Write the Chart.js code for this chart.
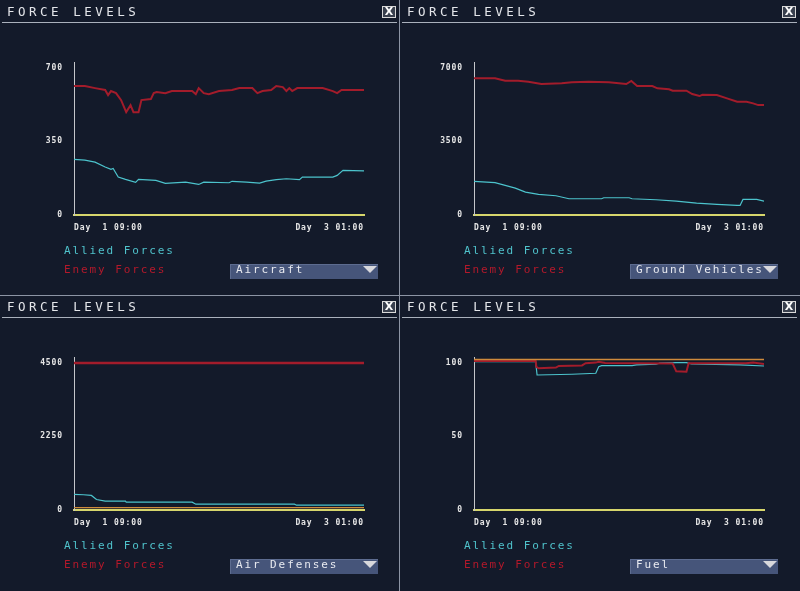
<!DOCTYPE html>
<html>
<head>
<meta charset="utf-8">
<script src="https://cdn.jsdelivr.net/npm/chart.js@4/dist/chart.umd.min.js"></script>
<style>
    body { margin: 0; width: 800px; height: 591px; overflow: hidden; position: relative; background: #131a2a; font-family: 'DejaVu Sans Mono', monospace; }
    .panel { position: absolute; width: 399px; height: 295px; background: #131a2a; }
    .panel canvas { position: absolute; left: 0; top: 0; }
    .titulo { position: absolute; left: 7px; top: 5px; font-size: 12.5px; line-height: 13px; letter-spacing: 3.5px; color: #e4e6ea; }
    .sep { position: absolute; left: 2px; width: 395px; top: 22px; height: 1px; background: #aab1bc; }
    .cerrar { position: absolute; left: 382px; top: 6px; width: 12px; height: 10px; border: 1px solid #d8d8d8; background: #39404e; color: #fff; font: bold 11px/10px 'DejaVu Sans', sans-serif; text-align: center; }
    .leyenda { position: absolute; left: 64px; font-size: 11px; line-height: 11px; letter-spacing: 1.9px; }
    .aliados { top: 245px; color: #4fc2cb; }
    .enemigos { top: 264px; color: #b3192b; }
    .combo { position: absolute; left: 230px; top: 264px; width: 148px; height: 15px; background: #46557a; box-shadow: inset 1px 1px 0 #5d6c90; }
    .combo span { position: absolute; left: 6px; top: 0; font-size: 11px; line-height: 11px; letter-spacing: 1.9px; color: #e8eaf0; }
    .flecha { position: absolute; left: 133px; top: 2px; width: 0; height: 0; border-left: 7px solid transparent; border-right: 7px solid transparent; border-top: 7px solid #d8d8dc; }
    .linea-v { position: absolute; left: 399px; top: 0; width: 1px; height: 591px; background: #8c94a4; }
    .linea-h { position: absolute; left: 0; top: 295px; width: 800px; height: 1px; background: #8c94a4; }
</style>
</head>
<body>
<div class="panel" id="panel0" style="left:0;top:0"></div>
<div class="panel" id="panel1" style="left:400px;top:0;width:400px"></div>
<div class="panel" id="panel2" style="left:0;top:295px;height:296px"></div>
<div class="panel" id="panel3" style="left:400px;top:295px;width:400px;height:296px"></div>
<div class="linea-v"></div>
<div class="linea-h"></div>
<script>
// Datos (horas desde Day 1 09:00)
const categorias = ['Aircraft', 'Ground Vehicles', 'Air Defenses', 'Fuel'];
const xTickHoras = [0, 40];
const xTickEtiquetas = ['Day  1 09:00', 'Day  3 01:00'];

const yTicksAircraft = [0, 350, 700];
const yTicksGround = [0, 3500, 7000];
const yTicksAirDef = [0, 2250, 4500];
const yTicksFuel = [0, 50, 100];

// Aircraft
const horasAircraftEnemigo = [0, 1.5, 2.9, 4.3, 4.7, 5.1, 5.8, 6.5, 7.2, 7.8, 8.2, 8.9, 9.3, 10.6, 11.0, 11.4, 12.6, 13.5, 16.3, 16.8, 17.2, 17.9, 18.6, 20.0, 21.8, 22.8, 24.6, 25.3, 26.0, 27.2, 27.9, 28.8, 29.3, 29.7, 30.1, 30.8, 34.3, 35.7, 36.3, 36.9, 40];
const aircraftEnemigo = [612, 612, 602, 593, 569, 588, 578, 545, 488, 521, 488, 488, 545, 550, 578, 583, 578, 588, 588, 573, 602, 578, 573, 588, 593, 602, 602, 578, 588, 593, 612, 607, 588, 602, 588, 602, 602, 588, 578, 593, 593];
const horasAircraftAliado = [0, 1.5, 2.9, 4.3, 5.1, 5.4, 6.1, 7.1, 8.5, 8.9, 11.3, 12.6, 15.4, 17.2, 17.9, 21.4, 21.8, 23.8, 25.6, 26.5, 27.9, 29.3, 31.1, 31.5, 35.7, 36.3, 37.1, 40];
const aircraftAliado = [264, 260, 251, 228, 217, 221, 180, 169, 155, 169, 164, 150, 156, 145, 156, 153, 160, 156, 151, 161, 168, 172, 168, 180, 180, 188, 212, 209];

// Ground Vehicles
const horasGroundEnemigo = [0, 2.9, 4.3, 6.1, 7.5, 9.3, 12.1, 13.5, 15.8, 18.6, 21.0, 21.7, 22.5, 24.6, 25.3, 26.9, 27.4, 29.3, 30.1, 31.1, 31.5, 33.5, 34.9, 36.3, 37.6, 38.5, 39.2, 40];
const groundEnemigo = [6486, 6486, 6371, 6371, 6324, 6214, 6248, 6295, 6324, 6295, 6214, 6357, 6119, 6119, 6010, 5962, 5895, 5895, 5738, 5643, 5705, 5690, 5533, 5371, 5371, 5295, 5214, 5214];
const horasGroundAliado = [0, 2.9, 4.3, 5.7, 7.1, 8.9, 11.3, 13.1, 17.6, 17.9, 21.4, 21.8, 25.1, 27.9, 30.7, 33.5, 36.3, 36.7, 37.1, 39.0, 40];
const groundAliado = [1595, 1533, 1405, 1276, 1086, 976, 914, 771, 771, 819, 819, 771, 724, 657, 562, 500, 452, 452, 738, 738, 657];

// Air Defenses
const horasAirDefEnemigo = [0, 40];
const airDefEnemigo = [4480, 4480];
const horasAirDefAliado = [0, 1.3, 2.4, 3.1, 4.3, 7.1, 7.2, 16.3, 16.8, 30.4, 30.7, 40];
const airDefAliado = [474, 465, 444, 321, 270, 270, 239, 239, 178, 178, 147, 147];
const horasAirDefOtro = [0, 40];
const airDefOtro = [70, 70];

// Fuel
const horasFuelEnemigo = [0, 8.5, 8.6, 8.9, 11.3, 11.7, 14.9, 15.4, 16.8, 17.2, 18.1, 27.4, 27.9, 29.3, 29.6, 37.5, 38.5, 40];
const fuelEnemigo = [101, 101, 97, 96, 96.5, 97.6, 98, 99.5, 99.9, 100.5, 99.6, 99.3, 94, 93.7, 99.5, 99.5, 100, 99];
const horasFuelAliado = [0, 8.5, 8.7, 13.5, 16.8, 17.2, 17.6, 21.8, 22.4, 25.1, 25.6, 27.9, 29.3, 30.0, 36.7, 40];
const fuelAliado = [100.5, 100.5, 91.5, 92, 92.7, 97.1, 97.8, 97.8, 98.3, 98.8, 99.5, 99.9, 99.9, 99, 98.3, 97.6];
const horasFuelOtro = [0, 40];
const fuelOtro = [102, 102];

const COLOR_ALIADO = '#4cc3cc';
const COLOR_ENEMIGO = '#a31c2b';
const COLOR_OTRO = '#cf8a3c';

function puntos(horas, valores) {
    return horas.map((h, i) => ({ x: h, y: valores[i] }));
}

function serie(horas, valores, color, ancho, orden) {
    return { data: puntos(horas, valores), borderColor: color, borderWidth: ancho, order: orden };
}

// espaciado entre letras para los textos del canvas
const espaciado = {
    id: 'espaciado',
    beforeDraw(chart) { chart.ctx.letterSpacing = '0.9px'; }
};

// Crea el marco del panel (titulo, leyenda, combo) y la grafica
function crearPanel(indice, yTicks, datasets) {
    const panel = document.getElementById('panel' + indice);
    const canvas = document.createElement('canvas');
    canvas.width = 399;
    canvas.height = 295;
    panel.appendChild(canvas);
    panel.insertAdjacentHTML('beforeend',
        '<div class="titulo">FORCE LEVELS</div><div class="sep"></div><div class="cerrar">X</div>' +
        '<div class="leyenda aliados">Allied Forces</div><div class="leyenda enemigos">Enemy Forces</div>' +
        '<div class="combo"><span>' + categorias[indice] + '</span><div class="flecha"></div></div>');

    const tope = yTicks[yTicks.length - 1];
    const fuenteTicks = { family: 'DejaVu Sans Mono', size: 8, weight: 'bold' };
    new Chart(canvas.getContext('2d'), {
        type: 'line',
        data: { datasets: datasets },
        options: {
            responsive: false,
            animation: false,
            devicePixelRatio: 1,
            layout: { padding: { left: 0, top: 62, right: 35, bottom: 60 } },
            elements: { point: { radius: 0 }, line: { tension: 0 } },
            plugins: { legend: { display: false }, tooltip: { enabled: false } },
            scales: {
                x: {
                    type: 'linear', min: 0, max: 40,
                    grid: { display: false, drawTicks: false },
                    border: { color: '#d6d66c', width: 2 },
                    afterBuildTicks: s => { s.ticks = xTickHoras.map(v => ({ value: v })); },
                    afterFit: s => { s.height = 20; },
                    ticks: {
                        autoSkip: false, maxRotation: 0, align: 'inner', padding: 8,
                        color: '#e6e6e6', font: fuenteTicks,
                        callback: (v, i) => xTickEtiquetas[i]
                    }
                },
                y: {
                    min: 0, max: tope * 1.037,
                    grid: { display: false, drawTicks: false },
                    border: { color: '#c4c6ca', width: 1 },
                    afterBuildTicks: s => { s.ticks = yTicks.map(v => ({ value: v })); },
                    afterFit: s => { s.width = 74; },
                    ticks: {
                        padding: 11, color: '#e6e6e6', font: fuenteTicks,
                        callback: v => String(v)
                    }
                }
            }
        },
        plugins: [espaciado]
    });
}

crearPanel(0, yTicksAircraft, [
    serie(horasAircraftAliado, aircraftAliado, COLOR_ALIADO, 1.2, 2),
    serie(horasAircraftEnemigo, aircraftEnemigo, COLOR_ENEMIGO, 2, 1)
]);
crearPanel(1, yTicksGround, [
    serie(horasGroundAliado, groundAliado, COLOR_ALIADO, 1.2, 2),
    serie(horasGroundEnemigo, groundEnemigo, COLOR_ENEMIGO, 2, 1)
]);
crearPanel(2, yTicksAirDef, [
    serie(horasAirDefAliado, airDefAliado, COLOR_ALIADO, 1.2, 2),
    serie(horasAirDefEnemigo, airDefEnemigo, COLOR_ENEMIGO, 2.5, 1),
    serie(horasAirDefOtro, airDefOtro, COLOR_OTRO, 1.2, 0)
]);
crearPanel(3, yTicksFuel, [
    serie(horasFuelAliado, fuelAliado, COLOR_ALIADO, 1.2, 2),
    serie(horasFuelEnemigo, fuelEnemigo, COLOR_ENEMIGO, 2, 1),
    serie(horasFuelOtro, fuelOtro, COLOR_OTRO, 1.5, 0)
]);
</script>
</body>
</html>
